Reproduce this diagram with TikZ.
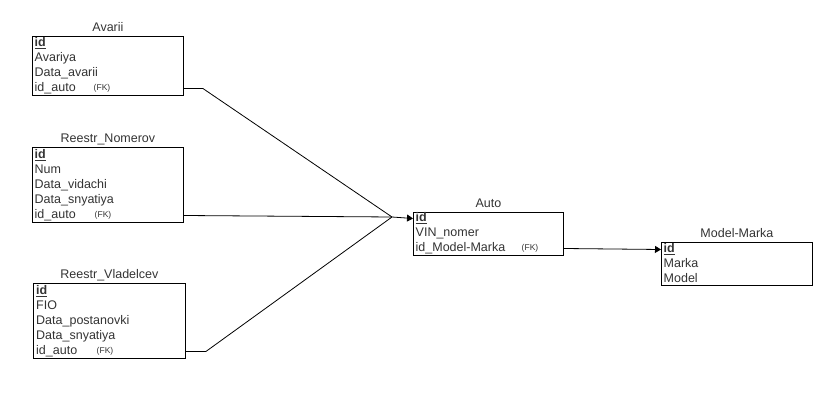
\documentclass[tikz,border=0pt]{standalone}
\usepackage{fontspec}
\setmainfont{Liberation Sans}
\usetikzlibrary{arrows.meta}
\usetikzlibrary{positioning}
\tikzset{>={Triangle[length=6pt,width=7pt]}}
\colorlet{textColor}{black!80}
\colorlet{lineColor}{black}
\tikzset{
  table/.style={draw=lineColor, line width=0.9pt, anchor=north west, inner sep=0pt},
  title/.style={font=\fontsize{12.5}{14}\selectfont, text=textColor, inner sep=0pt, text height=9pt, text depth=3pt},
  field/.style={anchor=west, inner sep=0pt, font=\fontsize{12.5}{14}\selectfont, text=textColor, text height=9pt, text depth=3pt},
  fk/.style={inner sep=0pt, font=\fontsize{8.5}{9}\selectfont, text=textColor},
  link/.style={draw=lineColor, line width=0.8pt},
}
\newcommand{\pk}{\underline{\textbf{id}}}

\begin{document}
\begin{tikzpicture}[x=1pt,y=-1pt]
\useasboundingbox (0,0) rectangle (834,411);

% Avarii
\node[table, minimum width=151pt, minimum height=59pt] (avarii) at (32,36) {};
\node[title, above=1pt of avarii] (avarii-t) {Avarii};
\foreach \f [count=\i] in {\pk,Avariya,Data\_avarii,id\_auto}
  \node[field] (avarii-\i) at (34.5,28.5+15*\i) {\f};
\node[fk] (avarii-fk) at (102,88) {(FK)};

% Reestr_Nomerov
\node[table, minimum width=151pt, minimum height=75pt] (nomerov) at (32,147) {};
\node[title, above=1pt of nomerov] (nomerov-t) {Reestr\_Nomerov};
\foreach \f [count=\i] in {\pk,Num,Data\_vidachi,Data\_snyatiya,id\_auto}
  \node[field] (nomerov-\i) at (34.5,140.5+15*\i) {\f};
\node[fk] (nomerov-fk) at (103,215) {(FK)};

% Reestr_Vladelcev
\node[table, minimum width=152pt, minimum height=75pt] (vladelcev) at (33,283) {};
\node[title, above=1pt of vladelcev] (vladelcev-t) {Reestr\_Vladelcev};
\foreach \f [count=\i] in {\pk,FIO,Data\_postanovki,Data\_snyatiya,id\_auto}
  \node[field] (vladelcev-\i) at (36,276.5+15*\i) {\f};
\node[fk] (vladelcev-fk) at (105,351) {(FK)};

% Auto
\node[table, minimum width=150pt, minimum height=43pt] (auto) at (413,212) {};
\node[title, above=1pt of auto] (auto-t) {Auto};
\foreach \f [count=\i] in {\pk,VIN\_nomer,id\_Model-Marka}
  \node[field] (auto-\i) at (415.5,203.5+15*\i) {\f};
\node[fk] (auto-fk) at (530,248) {(FK)};

% Model-Marka
\node[table, minimum width=151pt, minimum height=43pt] (marka) at (661,242) {};
\node[title, above=1pt of marka] (marka-t) {Model-Marka};
\foreach \f [count=\i] in {\pk,Marka,Model}
  \node[field] (marka-\i) at (663.5,234.5+15*\i) {\f};

% links
\coordinate (hub) at (392,217);
\draw[link] (avarii.east |- avarii-4) -- ++(19,0) -- (hub);
\draw[link] (nomerov.east |- nomerov-5) -- (hub);
\draw[link] (vladelcev.east |- vladelcev-5) -- ++(20,0) -- (hub);
\draw[link,->] (hub) -- (auto.west |- auto-1);
\draw[link,->] (auto.east |- auto-3) -- (marka.west |- marka-1);
\end{tikzpicture}
\end{document}
